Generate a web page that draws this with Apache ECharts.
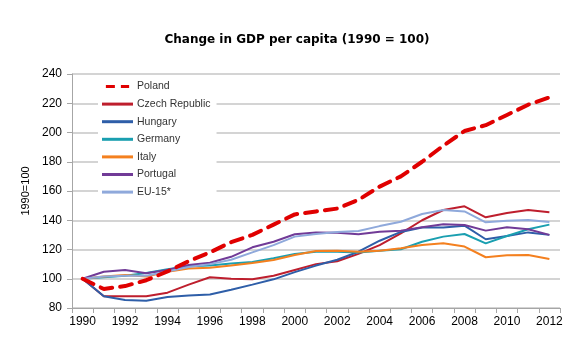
<!DOCTYPE html>
<html>
<head>
<meta charset="utf-8">
<script src="https://cdn.jsdelivr.net/npm/echarts@6/dist/echarts.min.js"></script>
<style>
  html, body { margin: 0; padding: 0; background: #fff; }
  #chart { width: 586px; height: 352px; }
</style>
</head>
<body>
<div id="chart"></div>
<script>
var years = ['1990', '1991', '1992', '1993', '1994', '1995', '1996', '1997', '1998', '1999', '2000', '2001',
  '2002', '2003', '2004', '2005', '2006', '2007', '2008', '2009', '2010', '2011', '2012']

var poland = [100, 93, 95, 99, 105, 112, 118, 125, 130, 137, 144, 146, 148, 154, 163, 170, 180, 191, 201, 205, 212, 219, 224]
var czech = [100, 88, 88, 88, 90.5, 96, 101, 100, 99.6, 102, 106, 110, 112, 117, 123, 131, 140, 147, 149.5, 142, 145, 147, 145.5]
var hungary = [100, 88, 85.5, 85, 87.5, 88.5, 89.3, 92.5, 96, 99.6, 104.5, 109, 113, 118.5, 126, 132, 135, 135, 136.3, 127, 129.2, 131.7, 130]
var germany = [100, 101, 102, 104, 106.5, 108.5, 109, 110.5, 111.5, 114, 117, 118.5, 118.5, 118, 119.2, 120.2, 125.3, 128.8, 130.6, 124.2, 129.2, 133.8, 137]
var italy = [100, 101.5, 102.5, 101.5, 104.8, 107, 107.5, 109, 110.7, 112.8, 116.2, 119, 119.2, 118.5, 119.2, 120.8, 123, 124.2, 122, 114.7, 116, 116.2, 113.5]
var portugal = [100, 104.8, 106, 103.7, 106, 109.4, 111, 115, 121.5, 125.3, 130.4, 131.7, 131.5, 130.4, 132.2, 132.9, 135.2, 137.2, 136.7, 132.9, 135.2, 133.8, 130]
var eu15 = [100, 101.5, 102, 102, 105, 108, 110, 113, 118, 123, 128.8, 130.6, 132, 132.6, 136, 139, 144.3, 147, 146, 138.6, 139.7, 140.2, 138.8]

var yTicks = { min: 80, max: 240, interval: 20 }

// legend icons: plain bar for solid lines, two dashes for Poland
var solidIcon = 'path://M0,0h31v3h-31z'
var dashIcon = 'path://M0,0h12v4h-12zM20,0h11v4h-11z'

var chart = echarts.init(document.getElementById('chart'))

function line (name, data, color, width, dashed) {
  return {
    name: name,
    type: 'line',
    data: data,
    symbol: 'none',
    showSymbol: false,
    z: dashed ? 10 : 5,
    lineStyle: {
      color: color,
      width: width,
      type: dashed ? [12, 8] : 'solid',
      cap: dashed ? 'round' : 'butt'
    },
    itemStyle: { color: color }
  }
}

chart.setOption({
  backgroundColor: '#fff',
  animation: false,
  title: {
    text: 'Change in GDP per capita (1990 = 100)',
    left: 292,
    textAlign: 'center',
    top: 29,
    textStyle: {
      fontFamily: 'DejaVu Sans',
      fontWeight: 'bold',
      fontSize: 12,
      color: '#000'
    }
  },
  legend: {
    orient: 'vertical',
    left: 98,
    top: 78,
    padding: [2, 6, 3, 4],
    itemGap: 4.6,
    itemWidth: 31,
    itemHeight: 3,
    backgroundColor: '#fff',
    z: 20,
    textStyle: {
      fontFamily: 'Liberation Sans',
      fontSize: 10.5,
      lineHeight: 13,
      color: '#333',
      padding: [0, 0, 0, -1]
    },
    data: [
      { name: 'Poland', icon: dashIcon, itemStyle: { color: '#e00000' } },
      { name: 'Czech Republic', icon: solidIcon },
      { name: 'Hungary', icon: solidIcon },
      { name: 'Germany', icon: solidIcon },
      { name: 'Italy', icon: solidIcon },
      { name: 'Portugal', icon: solidIcon },
      { name: 'EU-15*', icon: solidIcon }
    ]
  },
  grid: {
    left: 72,
    right: 26,
    top: 74,
    bottom: 44
  },
  xAxis: {
    type: 'category',
    data: years,
    boundaryGap: true,
    axisLine: { lineStyle: { color: '#a6a6a6', width: 1 } },
    axisTick: { show: true, interval: 0, length: 5, lineStyle: { color: '#a6a6a6' } },
    axisLabel: {
      interval: 1,
      color: '#000',
      fontFamily: 'Liberation Sans',
      fontSize: 12,
      margin: 8
    },
    splitLine: { show: false }
  },
  yAxis: {
    type: 'value',
    min: yTicks.min,
    max: yTicks.max,
    interval: yTicks.interval,
    name: '1990=100',
    nameLocation: 'middle',
    nameGap: 38,
    nameRotate: 90,
    nameTextStyle: { fontFamily: 'Liberation Sans', fontSize: 11, color: '#000' },
    axisLine: { show: true, lineStyle: { color: '#a6a6a6', width: 1 } },
    axisTick: { show: true, length: 5, lineStyle: { color: '#a6a6a6' } },
    axisLabel: {
      color: '#000',
      fontFamily: 'Liberation Sans',
      fontSize: 12,
      margin: 10
    },
    splitLine: { show: true, lineStyle: { color: '#c6c6c6', width: 1.5 } }
  },
  series: [
    line('Poland', poland, '#e00000', 4, true),
    line('Czech Republic', czech, '#be1e2d', 2),
    line('Hungary', hungary, '#2e5ea8', 2),
    line('Germany', germany, '#1a9fb0', 2),
    line('Italy', italy, '#f4801f', 2),
    line('Portugal', portugal, '#713b97', 2),
    line('EU-15*', eu15, '#8fa9db', 2)
  ]
})
</script>
</body>
</html>
